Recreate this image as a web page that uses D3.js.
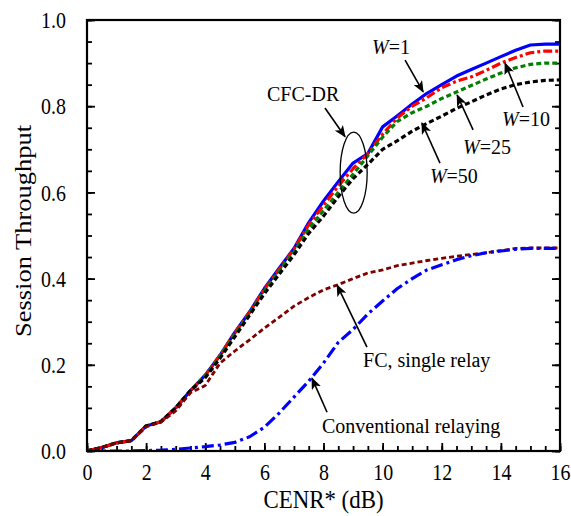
<!DOCTYPE html>
<html>
<head>
<meta charset="utf-8">
<script src="https://cdn.jsdelivr.net/npm/d3@7"></script>
<style>
  body { margin: 0; background: #fff; }
  svg { font-family: "Liberation Serif", "Times New Roman", serif; }
</style>
</head>
<body>
<svg width="571" height="516"></svg>
<script>
// CENR* (dB) sample points
var cenr = [0, 0.5, 1, 1.5, 2, 2.5, 3, 3.5, 4, 4.5, 5, 5.5, 6, 6.5, 7, 7.5, 8,
            8.5, 9, 9.5, 10, 10.5, 11, 11.5, 12, 12.5, 13, 13.5, 14, 14.5, 15, 15.5, 16];

var w1 = [0, 0.008, 0.019, 0.024, 0.058, 0.068, 0.1, 0.14, 0.176, 0.222, 0.275, 0.323, 0.377, 0.424, 0.47, 0.53, 0.58,
          0.625, 0.668, 0.69, 0.752, 0.778, 0.805, 0.83, 0.85, 0.87, 0.885, 0.9, 0.915, 0.93, 0.942, 0.944, 0.944];
var w10 = [0, 0.008, 0.019, 0.024, 0.058, 0.068, 0.1, 0.14, 0.176, 0.222, 0.274, 0.322, 0.375, 0.421, 0.468, 0.525, 0.57,
           0.615, 0.655, 0.69, 0.735, 0.773, 0.8, 0.82, 0.843, 0.858, 0.868, 0.883, 0.9, 0.913, 0.924, 0.928, 0.928];
var w25 = [0, 0.008, 0.019, 0.024, 0.058, 0.068, 0.1, 0.14, 0.174, 0.22, 0.271, 0.319, 0.371, 0.418, 0.462, 0.515, 0.558,
           0.6, 0.642, 0.685, 0.728, 0.765, 0.785, 0.8, 0.818, 0.833, 0.848, 0.863, 0.877, 0.889, 0.897, 0.9, 0.9];
var w50 = [0, 0.008, 0.019, 0.024, 0.058, 0.068, 0.1, 0.14, 0.17, 0.215, 0.265, 0.315, 0.365, 0.41, 0.455, 0.505, 0.545,
           0.59, 0.632, 0.665, 0.7, 0.72, 0.742, 0.76, 0.777, 0.795, 0.81, 0.826, 0.84, 0.85, 0.856, 0.86, 0.861];
var fcSingle = [0, 0.008, 0.019, 0.024, 0.056, 0.067, 0.093, 0.135, 0.152, 0.204, 0.232, 0.258, 0.285, 0.31, 0.336, 0.356, 0.374,
                0.386, 0.4, 0.413, 0.42, 0.43, 0.436, 0.442, 0.447, 0.452, 0.456, 0.46, 0.465, 0.47, 0.471, 0.471, 0.471];
var conventional = [0, 0, 0, 0, 0.001, 0.002, 0.004, 0.007, 0.01, 0.014, 0.02, 0.033, 0.055, 0.088, 0.125, 0.162, 0.204,
                    0.252, 0.282, 0.318, 0.348, 0.377, 0.4, 0.42, 0.432, 0.444, 0.453, 0.46, 0.464, 0.468, 0.47, 0.47, 0.47];

var xTicks = [0, 2, 4, 6, 8, 10, 12, 14, 16];
var yTicks = [0, 0.2, 0.4, 0.6, 0.8, 1.0];

var series = [
  {values: w1, color: "#0000ff", width: 3.2, dash: null},
  {values: w10, color: "#ff0000", width: 3.2, dash: "9,3,3,3"},
  {values: w25, color: "#008000", width: 3.2, dash: "5,3"},
  {values: w50, color: "#000000", width: 3.2, dash: "5,3"},
  {values: fcSingle, color: "#800000", width: 2.8, dash: "5,3"},
  {values: conventional, color: "#0000ff", width: 3.2, dash: "12,4,3,4"}
];

// annotation text and arrows, placed in data units
var labels = [
  {text: "CFC-DR", w: false, x: 6.09, y: 0.811, ax1: 8.05, ay1: 0.796, ax2: 8.73, ay2: 0.729},
  {text: "=1", w: true, x: 9.64, y: 0.922, ax1: 10.76, ay1: 0.907, ax2: 11.37, ay2: 0.833},
  {text: "=10", w: true, x: 14.04, y: 0.753, ax1: 14.75, ay1: 0.798, ax2: 14.14, ay2: 0.9},
  {text: "=25", w: true, x: 12.72, y: 0.688, ax1: 13.06, ay1: 0.745, ax2: 12.52, ay2: 0.826},
  {text: "=50", w: true, x: 11.6, y: 0.621, ax1: 11.94, ay1: 0.668, ax2: 11.33, ay2: 0.761},
  {text: "FC, single relay", w: false, x: 9.34, y: 0.195, ax1: 9.47, ay1: 0.241, ax2: 8.46, ay2: 0.385},
  {text: "Conventional relaying", w: false, x: 7.95, y: 0.042, ax1: 8.12, ay1: 0.09, ax2: 7.61, ay2: 0.169}
];

var svg = d3.select("svg"),
    margin = {top: 20, right: 11, bottom: 65, left: 87},
    width = +svg.attr("width") - margin.left - margin.right,
    height = +svg.attr("height") - margin.top - margin.bottom;

var x = d3.scaleLinear().domain([0, 16]).range([0, width]),
    y = d3.scaleLinear().domain([0, 1]).range([height, 0]);

var g = svg.append("g")
    .attr("transform", "translate(" + margin.left + "," + margin.top + ")");

g.append("defs").append("clipPath").attr("id", "clip")
  .append("rect").attr("width", width).attr("height", height);

// minor + major ticks, pointing inward
var tickStyle = function (sel) {
  sel.select(".domain").remove();
  sel.attr("font-family", null);
  sel.selectAll("line").attr("stroke", "#000").attr("stroke-width", 1.8);
};

// the original figure's numbers are a bit narrow for their height
var squeeze = function (sel, k) {
  sel.each(function () {
    var w = this.getComputedTextLength();
    d3.select(this).attr("textLength", w * k).attr("lengthAdjust", "spacingAndGlyphs");
  });
};

g.append("g")
    .attr("transform", "translate(0," + height + ")")
    .call(d3.axisTop(x).tickValues(d3.range(0, 16.01, 0.5)).tickSize(5).tickFormat(""))
    .call(tickStyle);
g.append("g")
    .attr("transform", "translate(0," + height + ")")
    .call(d3.axisBottom(x).tickValues(xTicks).tickSize(-8).tickPadding(12).tickFormat(d3.format("d")))
    .call(tickStyle)
    .selectAll("text").attr("font-size", 24).attr("fill", "#000")
    .call(squeeze, 0.83);

g.append("g")
    .call(d3.axisRight(y).tickValues(d3.range(0, 1.001, 0.05)).tickSize(5).tickFormat(""))
    .call(tickStyle);
g.append("g")
    .call(d3.axisLeft(y).tickValues(yTicks).tickSize(-8).tickPadding(21).tickFormat(d3.format(".1f")))
    .call(tickStyle)
    .selectAll("text").attr("font-size", 24).attr("fill", "#000")
    .call(squeeze, 0.83);

g.append("g")
    .attr("transform", "translate(" + width + ",0)")
    .call(d3.axisLeft(y).tickValues(d3.range(0, 1.001, 0.05)).tickSize(5).tickFormat(""))
    .call(tickStyle);
g.append("g")
    .attr("transform", "translate(" + width + ",0)")
    .call(d3.axisLeft(y).tickValues(yTicks).tickSize(8).tickFormat(""))
    .call(tickStyle);

// curves
var line = d3.line()
    .x(function(d, i) { return x(cenr[i]); })
    .y(function(d) { return y(d); });

g.append("g").attr("clip-path", "url(#clip)")
  .selectAll("path")
  .data(series)
  .enter().append("path")
    .attr("d", function(d) { return line(d.values); })
    .attr("fill", "none")
    .attr("stroke", function(d) { return d.color; })
    .attr("stroke-width", function(d) { return d.width; })
    .attr("stroke-dasharray", function(d) { return d.dash; })
    .attr("stroke-linejoin", "round");

// frame
g.append("rect")
    .attr("width", width).attr("height", height)
    .attr("fill", "none").attr("stroke", "#000").attr("stroke-width", 2.2);

// ellipse around CFC-DR curves
g.append("ellipse")
    .attr("cx", x(9.02)).attr("cy", y(0.646))
    .attr("rx", x(0.457) - x(0)).attr("ry", y(0) - y(0.094))
    .attr("fill", "none").attr("stroke", "#000").attr("stroke-width", 1.3);

// arrows
svg.append("defs").append("marker")
    .attr("id", "head")
    .attr("viewBox", "0 0 12 10")
    .attr("refX", 11).attr("refY", 5)
    .attr("markerWidth", 12).attr("markerHeight", 10)
    .attr("markerUnits", "userSpaceOnUse")
    .attr("orient", "auto")
  .append("path")
    .attr("d", "M0,0 L12,5 L0,10 L3,5 Z")
    .attr("fill", "#000");

g.selectAll(".arrow")
  .data(labels)
  .enter().append("line")
    .attr("class", "arrow")
    .attr("x1", function(d) { return x(d.ax1); })
    .attr("y1", function(d) { return y(d.ay1); })
    .attr("x2", function(d) { return x(d.ax2); })
    .attr("y2", function(d) { return y(d.ay2); })
    .attr("stroke", "#000").attr("stroke-width", 1.6)
    .attr("marker-end", "url(#head)");

var txt = g.selectAll(".note")
  .data(labels)
  .enter().append("text")
    .attr("class", "note")
    .attr("x", function(d) { return x(d.x); })
    .attr("y", function(d) { return y(d.y); })
    .attr("font-size", 20)
    .attr("fill", "#000");
txt.filter(function(d) { return d.w; })
  .append("tspan").attr("font-style", "italic").text("W");
txt.append("tspan").text(function(d) { return d.text; });

// axis titles
svg.append("text")
    .attr("x", margin.left + width / 2)
    .attr("y", 508)
    .attr("text-anchor", "middle")
    .attr("font-size", 26)
    .text("CENR* (dB)")
    .call(squeeze, 0.88);

svg.append("text")
    .attr("transform", "translate(31,231) scale(0.85,1) rotate(-90)")
    .attr("text-anchor", "middle")
    .attr("font-size", 26.5)
    .text("Session Throughput");
</script>
</body>
</html>
